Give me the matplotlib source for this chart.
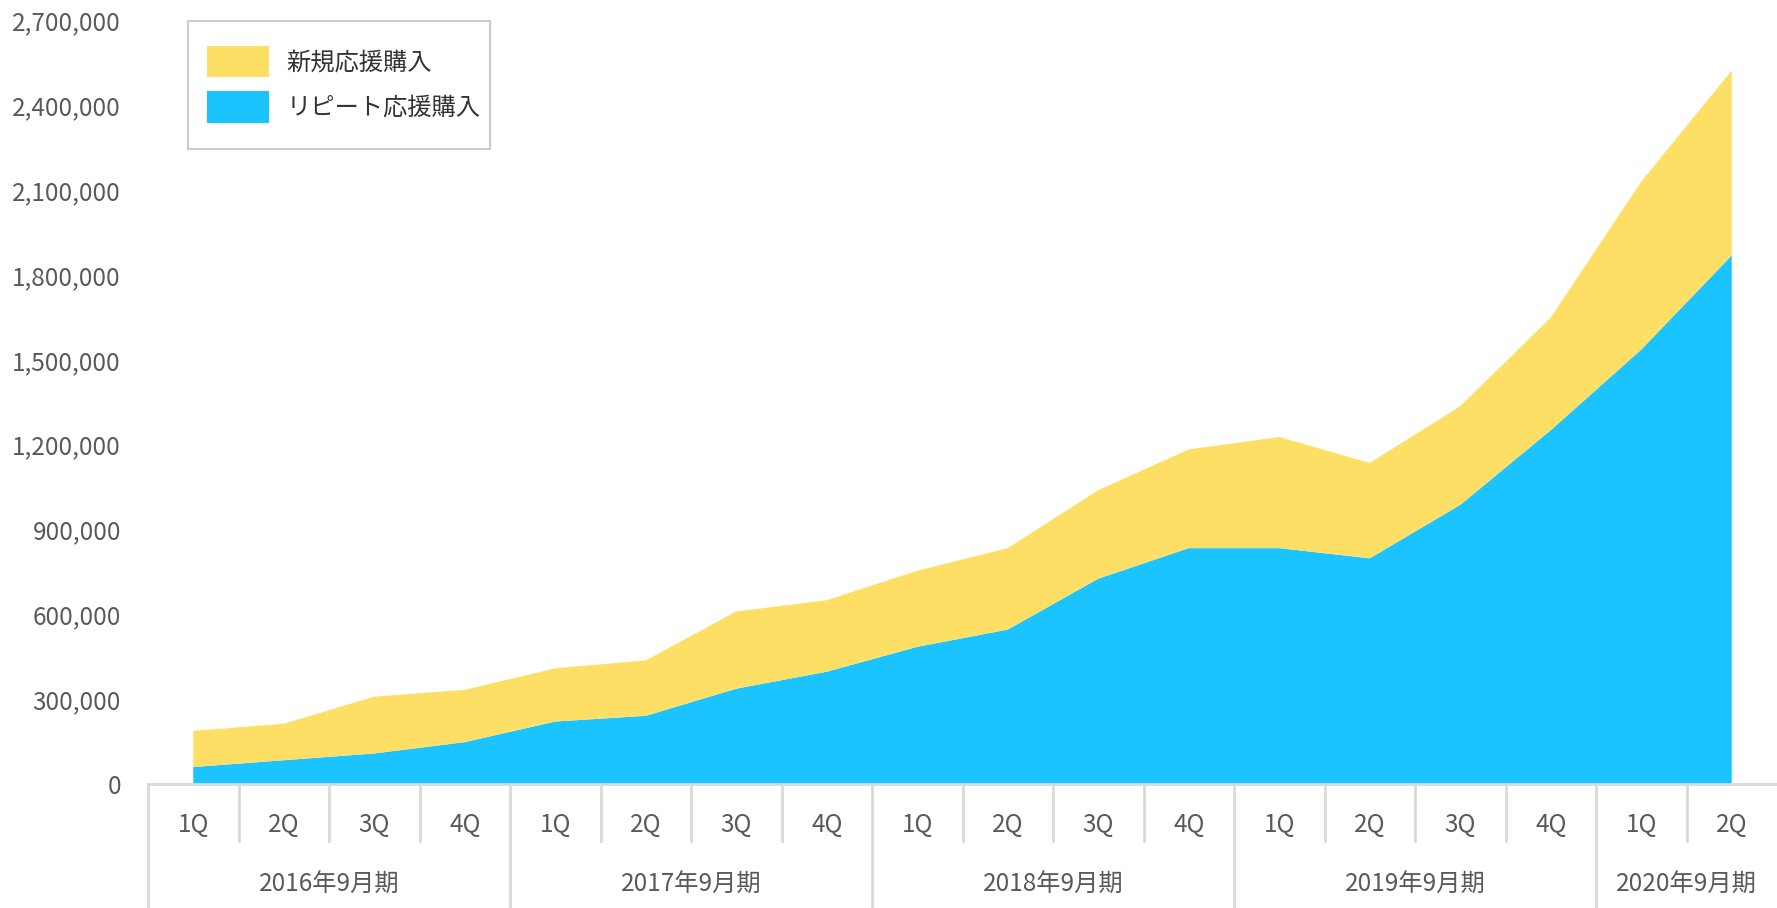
import matplotlib
matplotlib.use("Agg")
import matplotlib.pyplot as plt
import matplotlib.transforms as mtransforms
from matplotlib.patches import Rectangle

plt.rcParams['font.family'] = ['Noto Sans CJK JP', 'DejaVu Sans']

quarters = ["1Q", "2Q", "3Q", "4Q", "1Q", "2Q", "3Q", "4Q", "1Q", "2Q", "3Q", "4Q",
            "1Q", "2Q", "3Q", "4Q", "1Q", "2Q"]
fiscal_years = ["2016年9月期", "2017年9月期", "2018年9月期", "2019年9月期", "2020年9月期"]
year_sizes = [4, 4, 4, 4, 2]
repeat_vals = [60000, 84000, 108000, 148000, 221000, 241000, 337000, 397000, 485000,
               546000, 726000, 834000, 834000, 798000, 987000, 1251000, 1536000, 1869000]
total_vals = [188000, 213000, 309000, 333000, 409000, 437000, 610000, 650000, 754000,
              834000, 1039000, 1183000, 1227000, 1135000, 1336000, 1649000, 2130000, 2523000]
new_vals = [t - r for t, r in zip(total_vals, repeat_vals)]
series_labels = ["リピート応援購入", "新規応援購入"]
yticks = list(range(0, 2700001, 300000))

BLUE = "#1BC4FF"
YELLOW = "#FDDF66"
TXT = "#595959"
GRID = "#d9d9d9"

W, H = 1777, 908
fig = plt.figure(figsize=(W / 100, H / 100), dpi=100)
left_px, right_px, base_px, top_px = 148, 1777, 784, 20.4
ax = fig.add_axes([left_px / W, 1 - base_px / H, (right_px - left_px) / W, (base_px - top_px) / H])

x = list(range(len(quarters)))
polys = ax.stackplot(x, repeat_vals, new_vals, colors=[BLUE, YELLOW], labels=series_labels, linewidth=0)

ax.set_xlim(-0.5, len(quarters) - 0.5)
ax.set_ylim(0, 2700000)
ax.set_yticks(yticks)
ax.set_yticklabels([f"{v:,}" for v in yticks])
ax.tick_params(axis='y', length=0, pad=19.5, labelsize=17.5, labelcolor=TXT)
ax.set_xticks(x)
ax.set_xticklabels(quarters)
ax.tick_params(axis='x', length=0, pad=20, labelsize=17.5, labelcolor=TXT)
for s in ["top", "right", "left"]:
    ax.spines[s].set_visible(False)
ax.spines["bottom"].set_color(GRID)
ax.spines["bottom"].set_linewidth(2)

ax_h = base_px - top_px
short_y = -(841 - base_px) / ax_h
long_y = -(908 - base_px) / ax_h
group_y = -(885 - base_px) / ax_h
trans = mtransforms.blended_transform_factory(ax.transData, ax.transAxes)
boundaries = []
pos = 0
for n in year_sizes:
    boundaries.append(pos)
    pos += n
for i in range(len(quarters)):
    xb = i - 0.5
    yb = long_y if i in boundaries else short_y
    ax.plot([xb, xb], [0, yb], transform=trans, color=GRID, lw=2, clip_on=False)
pos = 0
for name, n in zip(fiscal_years, year_sizes):
    ax.text(pos + (n - 1) / 2, group_y, name, transform=trans, ha='center', va='center',
            fontsize=17.5, color=TXT)
    pos += n

# legend border box
ax.add_patch(Rectangle((188 / W, 1 - 149 / H), (490 - 188) / W, (149 - 21) / H,
                       transform=fig.transFigure, facecolor="white", edgecolor="#cccccc",
                       linewidth=1.5, zorder=4, clip_on=False))
handles = [polys[1], polys[0]]
labels = [series_labels[1], series_labels[0]]
leg = ax.legend(handles, labels, loc='upper left', bbox_to_anchor=(207 / W, 1 - 46 / H),
                bbox_transform=fig.transFigure, fontsize=17.5, frameon=False,
                handlelength=2.55, handleheight=1.6, handletextpad=0.72,
                borderpad=0, labelspacing=0.58, borderaxespad=0)
leg.set_zorder(6)
for t in leg.get_texts():
    t.set_color("#333333")

fig.savefig("out.png", dpi=100)
